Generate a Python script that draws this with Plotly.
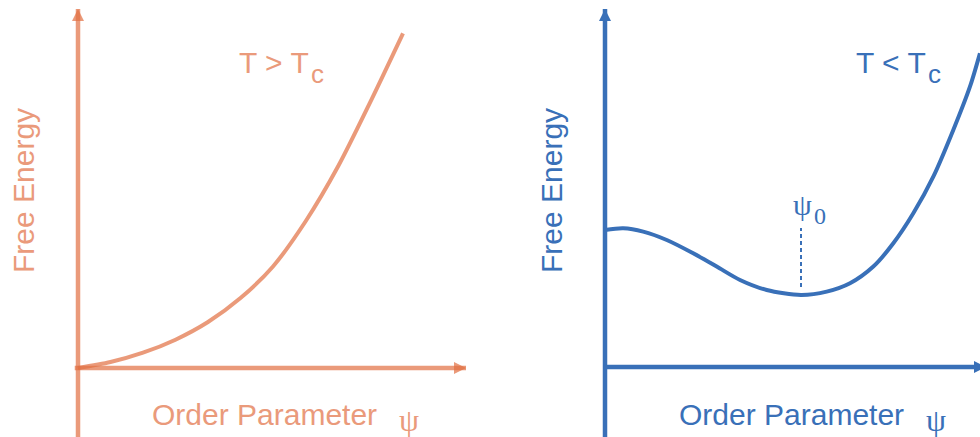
import plotly.graph_objects as go

# Free energy vs. order parameter above the critical temperature
psi_hot = [0.0, 0.1, 0.2, 0.3, 0.4, 0.5, 0.6, 0.7, 0.8, 0.9, 1.0]
f_hot = [0.0, 0.018, 0.046, 0.085, 0.138, 0.21, 0.305, 0.44, 0.605, 0.80, 1.005]

# Free energy vs. order parameter below the critical temperature (minimum at psi0 = 1)
psi_cold = [0.0, 0.093, 0.195, 0.315, 0.45, 0.57, 0.689, 0.825, 1.0, 1.131, 1.25,
            1.369, 1.471, 1.573, 1.675, 1.777, 1.862, 1.913]
f_cold = [1.0, 1.012, 0.988, 0.927, 0.83, 0.733, 0.635, 0.562, 0.526, 0.55, 0.611,
          0.733, 0.903, 1.122, 1.389, 1.73, 2.046, 2.29]

psi0 = 1.0
psi0_marker = [0.584, 1.015]  # extent of the dashed guide at psi0

W, H = 980, 437
ORANGE_LINE = "rgba(225,111,66,0.7)"
ORANGE_TEXT = "#EA9A7B"
BLUE = "#3970B8"

# pixel anchors of each panel's origin and unit lengths
L_ORIG = (78, 368)
L_UNIT = (325, 333)
R_ORIG = (605, 367)
R_UNIT = (196, 137)


def xr(x0_px, dom, unit):
    return [(dom[0] * W - x0_px) / unit, (dom[1] * W - x0_px) / unit]


def yr(y0_px, unit):
    return [-(H - y0_px) / unit, y0_px / unit]


fig = go.Figure()

# ---- left panel (T > Tc) ----
l_ymin = yr(L_ORIG[1], L_UNIT[1])[0]
l_vtip = (L_ORIG[1] - 9) / L_UNIT[1]
l_htip = (466 - L_ORIG[0]) / L_UNIT[0]
fig.add_trace(go.Scatter(x=[0, 0], y=[l_ymin, l_vtip], mode="lines",
                         line=dict(color=ORANGE_LINE, width=4.5), xaxis="x", yaxis="y"))
fig.add_trace(go.Scatter(x=[-0.01, l_htip], y=[0, 0], mode="lines",
                         line=dict(color=ORANGE_LINE, width=4.5), xaxis="x", yaxis="y"))
fig.add_trace(go.Scatter(x=[0, l_htip], y=[l_vtip, 0], mode="markers",
                         marker=dict(symbol=["arrow-up", "arrow-right"], size=12,
                                     color=ORANGE_LINE, line=dict(width=0)),
                         xaxis="x", yaxis="y"))
fig.add_trace(go.Scatter(x=psi_hot, y=f_hot, mode="lines",
                         line=dict(color=ORANGE_LINE, width=4, shape="spline", smoothing=0.8),
                         xaxis="x", yaxis="y"))

# ---- right panel (T < Tc) ----
r_ymin = yr(R_ORIG[1], R_UNIT[1])[0]
r_vtip = (R_ORIG[1] - 9) / R_UNIT[1]
r_htip = (986 - R_ORIG[0]) / R_UNIT[0]
fig.add_trace(go.Scatter(x=[0, 0], y=[r_ymin, r_vtip], mode="lines",
                         line=dict(color=BLUE, width=4.5), xaxis="x2", yaxis="y2"))
fig.add_trace(go.Scatter(x=[-0.01, r_htip], y=[0, 0], mode="lines",
                         line=dict(color=BLUE, width=4.5), xaxis="x2", yaxis="y2"))
fig.add_trace(go.Scatter(x=[0, r_htip], y=[r_vtip, 0], mode="markers",
                         marker=dict(symbol=["arrow-up", "arrow-right"], size=12,
                                     color=BLUE, line=dict(width=0)),
                         xaxis="x2", yaxis="y2"))
fig.add_trace(go.Scatter(x=psi_cold, y=f_cold, mode="lines",
                         line=dict(color=BLUE, width=4, shape="spline", smoothing=0.8),
                         xaxis="x2", yaxis="y2"))
fig.add_trace(go.Scatter(x=[psi0, psi0], y=psi0_marker, mode="lines",
                         line=dict(color=BLUE, width=2, dash="4px,3px"),
                         xaxis="x2", yaxis="y2"))

hidden = dict(visible=False, fixedrange=True)
fig.update_layout(
    width=W, height=H,
    margin=dict(l=0, r=0, t=0, b=0),
    paper_bgcolor="white", plot_bgcolor="white",
    showlegend=False,
    xaxis=dict(domain=[0, 0.5], range=xr(L_ORIG[0], [0, 0.5], L_UNIT[0]), **hidden),
    yaxis=dict(domain=[0, 1], range=yr(L_ORIG[1], L_UNIT[1]), **hidden),
    xaxis2=dict(domain=[0.5, 1], range=xr(R_ORIG[0], [0.5, 1], R_UNIT[0]), **hidden),
    yaxis2=dict(domain=[0, 1], range=yr(R_ORIG[1], R_UNIT[1]), anchor="x2", **hidden),
)

SANS = "Liberation Sans, Arial, sans-serif"
SERIF = "Liberation Serif, Times New Roman, serif"


def label(text, px, py, size, color, family=SANS, angle=0, xanchor="center"):
    fig.add_annotation(text=text, x=px / W, y=1 - py / H, xref="paper", yref="paper",
                       showarrow=False, textangle=angle, xanchor=xanchor, yanchor="middle",
                       borderpad=0, font=dict(family=family, size=size, color=color))


# axis titles
label("Free Energy", 23, 191, 30, ORANGE_TEXT, angle=-90)
label("Free Energy", 551, 191, 30, BLUE, angle=-90)
label("Order Parameter", 264, 414.6, 30, ORANGE_TEXT)
label("ψ", 408.5, 420, 32, ORANGE_TEXT, family=SERIF)
label("Order Parameter", 791, 414.6, 30, BLUE)
label("ψ", 936, 420, 32, BLUE, family=SERIF)

# temperature labels, with the lowered "c" drawn just after the second T
label("T &gt; T", 238, 62.9, 30, ORANGE_TEXT, xanchor="left")
label("c", 309.5, 74, 26, ORANGE_TEXT, xanchor="left")
label("T &lt; T", 855, 62.9, 30, BLUE, xanchor="left")
label("c", 926.5, 74, 26, BLUE, xanchor="left")

# psi0 marker label
label("ψ", 802, 204, 30, BLUE, family=SERIF)
label("0", 820, 216, 24, BLUE, family=SERIF)

fig.write_html("out.html")
